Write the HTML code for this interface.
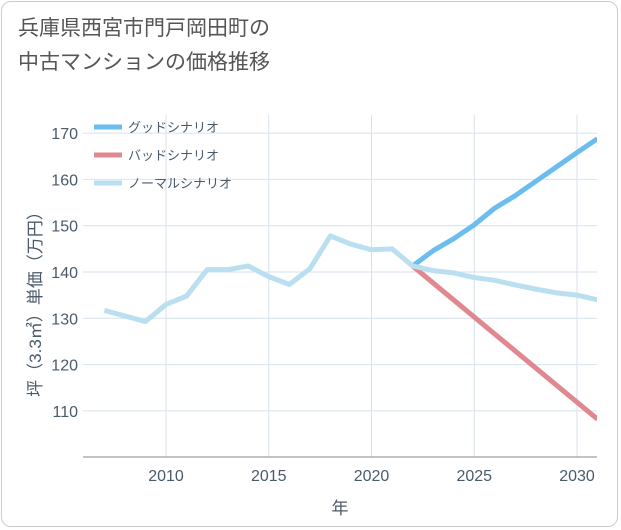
<!DOCTYPE html>
<html><head><meta charset="utf-8"><style>
body{margin:0;background:#fff;font-family:"Liberation Sans","Noto Sans CJK JP",sans-serif;}
#wrap{position:relative;width:621px;height:530px;}
#frame{position:absolute;left:1px;top:1px;width:617px;height:526px;border:1px solid #ccc;border-radius:10px;box-sizing:border-box;}
h1{position:absolute;left:18px;top:12px;margin:0;font-size:21px;font-weight:normal;color:#555;line-height:34px;}
</style></head><body>
<div id="wrap">
<div id="frame"></div>
<h1>兵庫県西宮市門戸岡田町の<br>中古マンションの価格推移</h1>
<svg id="chart" width="621" height="530" style="position:absolute;left:0;top:0"></svg>
</div>
<script>
const years=[2007,2008,2009,2010,2011,2012,2013,2014,2015,2016,2017,2018,2019,2020,2021,2022,2023,2024,2025,2026,2027,2028,2029,2030,2031];
const normal=[131.7,130.5,129.3,133,134.8,140.5,140.5,141.3,139,137.3,140.7,147.8,146,144.8,145,141.3,140.3,139.8,138.8,138.2,137.2,136.3,135.5,135,134];
const goodYears=[2022,2023,2024,2025,2026,2027,2028,2029,2030,2031];
const good=[141.3,144.6,147.2,150.2,153.8,156.5,159.6,162.7,165.8,168.8];
const badYears=[2022,2031];
const bad=[141.3,108.2];
const xTicks=[2010,2015,2020,2025,2030];
const yTicks=[110,120,130,140,150,160,170];
const L=83,R=597,T=115,B=457;
const x=v=>166+(v-2010)*20.55;
const y=v=>272-(v-140)*4.63;
const svg=document.getElementById('chart');
const NS='http://www.w3.org/2000/svg';
function mk(t,a){const e=document.createElementNS(NS,t);for(const k in a)e.setAttribute(k,a[k]);svg.appendChild(e);return e;}
for(const t of xTicks){const l=mk('line',{x1:x(t),x2:x(t),y1:T,y2:B,stroke:'#d5e2ee'});

const tx=mk('text',{x:x(t),y:481,'text-anchor':'middle','font-size':16,fill:'#4a5a6a'});tx.textContent=t;
}
for(const t of yTicks){const l=mk('line',{x1:L,x2:R,y1:y(t),y2:y(t),stroke:'#d5e2ee'});

const tx=mk('text',{x:78,y:y(t)+6,'text-anchor':'end','font-size':16,fill:'#4a5a6a'});tx.textContent=t;
}
const ax=mk('line',{x1:L,x2:R,y1:B,y2:B,stroke:'#888'});

const xt=mk('text',{x:340,y:514,'text-anchor':'middle','font-size':17,fill:'#4a5a6a'});xt.textContent='年';

const yt=mk('text',{x:0,y:0,'text-anchor':'middle','font-size':17,fill:'#4a5a6a',transform:'translate(41,300) rotate(-90)'});yt.textContent='坪（3.3㎡）単価（万円）';

const clip=mk('clipPath',{id:'c'});const cr=document.createElementNS(NS,'rect');cr.setAttribute('x',L);cr.setAttribute('y',T-10);cr.setAttribute('width',R-L);cr.setAttribute('height',B-T+10);clip.appendChild(cr);
function line(xs,vs,c,name){const p=mk('polyline',{points:xs.map((v,i)=>x(v)+','+y(vs[i])).join(' '),fill:'none',stroke:c,'stroke-width':5,'stroke-linejoin':'round','clip-path':'url(#c)'});
}
line(goodYears,good,'#6bbdf0','good-scenario-line');
line(badYears,bad,'#e08890','bad-scenario-line');
line(years,normal,'#b9dff0','normal-scenario-line');
const leg=[['グッドシナリオ','#6bbdf0'],['バッドシナリオ','#e08890'],['ノーマルシナリオ','#b9dff0']];
leg.forEach((d,i)=>{const yy=127+i*28;
const l=mk('line',{x1:94,x2:122,y1:yy,y2:yy,stroke:d[1],'stroke-width':5});

const t=mk('text',{x:128,y:yy+5,'font-size':13,fill:'#4a5a6a'});t.textContent=d[0];
});
</script>
</body></html>
